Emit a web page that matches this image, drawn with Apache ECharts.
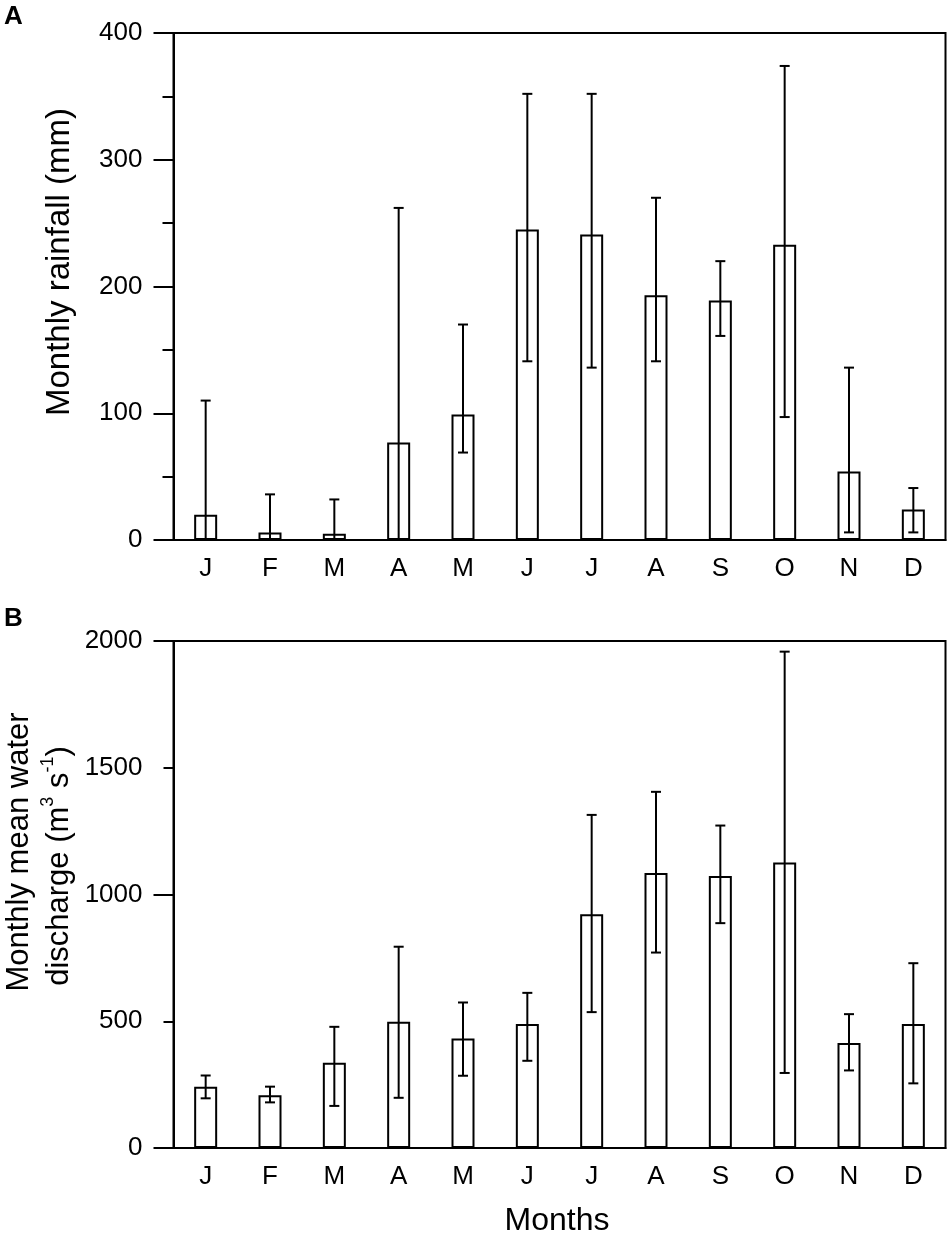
<!DOCTYPE html>
<html>
<head>
<meta charset="utf-8">
<script src="https://cdn.jsdelivr.net/npm/echarts@6/dist/echarts.min.js"></script>
<style>
  html, body { margin: 0; padding: 0; background: #fff; }
  #main { width: 951px; height: 1239px; }
</style>
</head>
<body>
<div id="main"></div>
<script>
// month initials on the x axis
var months = ['J', 'F', 'M', 'A', 'M', 'J', 'J', 'A', 'S', 'O', 'N', 'D'];

// panel A: monthly rainfall (mm), mean with error range
var rainMean  = [20, 6, 5, 77, 99, 245, 241, 193, 189, 233, 54, 24];
var rainUpper = [110, 36, 32, 262, 170, 352, 352, 270, 220, 374, 136, 41];
var rainLower = [0, 0, 0, 0, 69, 141, 136, 141, 161, 97, 6, 6];

// panel B: monthly mean water discharge (m3 s-1)
var flowMean  = [242, 208, 336, 498, 432, 489, 922, 1085, 1073, 1126, 414, 489];
var flowUpper = [286, 242, 478, 794, 574, 612, 1314, 1405, 1272, 1958, 528, 729];
var flowLower = [196, 180, 166, 198, 285, 344, 536, 771, 887, 296, 306, 255];

var FONT = "'Liberation Sans', Arial, sans-serif";

var chart = echarts.init(document.getElementById('main'), null, { renderer: 'canvas' });

function errData(lo, hi) {
  return lo.map(function (v, i) { return [i, v, hi[i]]; });
}

function renderErr(params, api) {
  var lo = api.coord([api.value(0), api.value(1)]);
  var hi = api.coord([api.value(0), api.value(2)]);
  var cap = 5;
  var st = { stroke: '#000', lineWidth: 2 };
  return {
    type: 'group',
    children: [
      { type: 'line', shape: { x1: hi[0], y1: hi[1], x2: lo[0], y2: lo[1] }, style: st },
      { type: 'line', shape: { x1: hi[0] - cap, y1: hi[1], x2: hi[0] + cap, y2: hi[1] }, style: st },
      { type: 'line', shape: { x1: lo[0] - cap, y1: lo[1], x2: lo[0] + cap, y2: lo[1] }, style: st }
    ]
  };
}

function xAxisFor(gi) {
  return {
    type: 'category', gridIndex: gi, data: months,
    axisLine: { lineStyle: { color: '#000', width: 2 } },
    axisTick: { length: 25, lineStyle: { color: '#000', width: 2 } },
    axisLabel: { color: '#000', fontSize: 26, fontFamily: FONT, margin: 16 },
    splitLine: { show: false }
  };
}

var labelStyle = {
  color: '#000', fontSize: 26, fontFamily: FONT, margin: 31,
  formatter: function (v) { return String(v); }
};

var option = {
  backgroundColor: '#fff',
  animation: false,
  grid: [
    { left: 173.5, top: 33, width: 772, height: 507, show: true, borderColor: '#000', borderWidth: 2 },
    { left: 173.5, top: 641, width: 772, height: 507, show: true, borderColor: '#000', borderWidth: 2 }
  ],
  xAxis: [xAxisFor(0), xAxisFor(1)],
  yAxis: [
    {
      type: 'value', gridIndex: 0, position: 'left', min: 0, max: 400, interval: 100,
      axisLine: { show: true, lineStyle: { color: '#000', width: 2 } },
      axisTick: { show: true, length: 20, lineStyle: { color: '#000', width: 2 } },
      minorTick: { show: true, splitNumber: 2, length: 11, lineStyle: { color: '#000', width: 2 } },
      axisLabel: labelStyle,
      splitLine: { show: false }
    },
    {
      type: 'value', gridIndex: 1, position: 'left', min: 0, max: 2000, interval: 500,
      axisLine: { show: true, lineStyle: { color: '#000', width: 2 } },
      axisTick: { show: true, length: 10, lineStyle: { color: '#000', width: 2 } },
      axisLabel: labelStyle,
      splitLine: { show: false }
    },
    {
      type: 'value', gridIndex: 1, position: 'left', min: 0, max: 2000, interval: 1000,
      axisLine: { show: true, lineStyle: { color: '#000', width: 2 } },
      axisTick: { show: true, length: 20, lineStyle: { color: '#000', width: 2 } },
      axisLabel: { show: false },
      splitLine: { show: false }
    }
  ],
  graphic: [
    { type: 'text', left: 4, top: 4, style: { text: 'A', font: 'bold 26px ' + FONT, fill: '#000' } },
    { type: 'text', left: 4, top: 606, style: { text: 'B', font: 'bold 26px ' + FONT, fill: '#000' } },
    {
      type: 'text', x: 60, y: 262, rotation: Math.PI / 2,
      style: { text: 'Monthly rainfall (mm)', font: '33px ' + FONT, fill: '#000', align: 'center', verticalAlign: 'middle' }
    },
    {
      type: 'text', x: 19, y: 852, rotation: Math.PI / 2,
      style: { text: 'Monthly mean water', font: '31px ' + FONT, fill: '#000', align: 'center', verticalAlign: 'middle' }
    },
    {
      type: 'text', x: 57, y: 866, rotation: Math.PI / 2,
      style: {
        text: '{n|discharge (m}{s|3}{n| s}{s|-1}{n|)}',
        align: 'center', verticalAlign: 'middle',
        rich: {
          n: { fontSize: 31, fontFamily: FONT, fill: '#000', lineHeight: 36, verticalAlign: 'bottom' },
          s: { fontSize: 18, fontFamily: FONT, fill: '#000', lineHeight: 36, verticalAlign: 'top' }
        }
      }
    },
    {
      type: 'text', x: 557, y: 1221,
      style: { text: 'Months', font: '32px ' + FONT, fill: '#000', align: 'center', verticalAlign: 'middle' }
    }
  ],
  series: [
    {
      type: 'bar', xAxisIndex: 0, yAxisIndex: 0, data: rainMean, barWidth: 23,
      itemStyle: { color: '#fff', borderColor: '#000', borderWidth: 2 }
    },
    {
      type: 'custom', xAxisIndex: 0, yAxisIndex: 0, data: errData(rainLower, rainUpper),
      renderItem: renderErr, z: 5
    },
    {
      type: 'bar', xAxisIndex: 1, yAxisIndex: 1, data: flowMean, barWidth: 23,
      itemStyle: { color: '#fff', borderColor: '#000', borderWidth: 2 }
    },
    {
      type: 'custom', xAxisIndex: 1, yAxisIndex: 1, data: errData(flowLower, flowUpper),
      renderItem: renderErr, z: 5
    }
  ]
};

chart.setOption(option);
</script>
</body>
</html>
